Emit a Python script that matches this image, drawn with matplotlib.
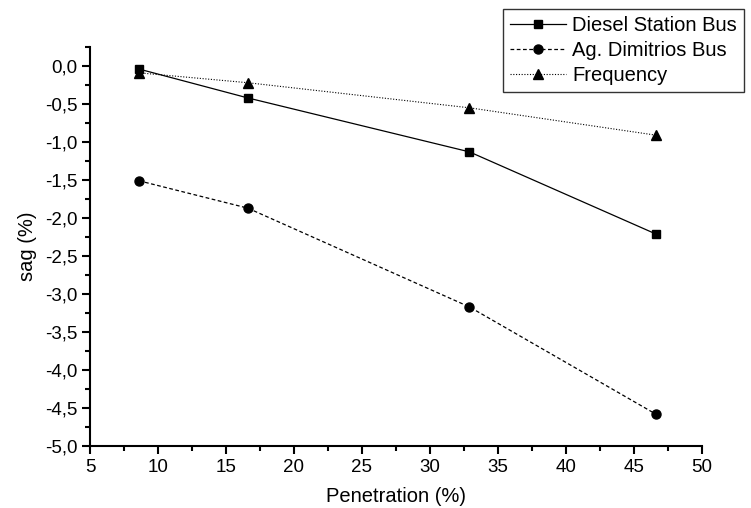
import numpy as np
import matplotlib.pyplot as plt
from matplotlib.ticker import FuncFormatter, MultipleLocator

plt.rcParams['font.family'] = ['Liberation Sans', 'DejaVu Sans']

# Data
penetration = [8.6, 16.6, 32.9, 46.6]
diesel_bus = [-0.04, -0.42, -1.13, -2.21]
dimitrios_bus = [-1.51, -1.87, -3.17, -4.58]
frequency = [-0.09, -0.22, -0.55, -0.91]

fig = plt.figure(figsize=(7.51, 5.08), dpi=100)
ax = fig.add_axes([0.1198, 0.122, 0.815, 0.7855])

ax.plot(penetration, diesel_bus, color='black', lw=0.9, ls='-',
        marker='s', ms=6, label='Diesel Station Bus')
ax.plot(penetration, dimitrios_bus, color='black', lw=0.9, ls=(0, (3, 2)),
        marker='o', ms=6.5, label='Ag. Dimitrios Bus')
ax.plot(penetration, frequency, color='black', lw=0.8, ls=(0, (1, 1.5)),
        marker='^', ms=7, label='Frequency')

ax.set_xlim(5, 50)
ax.set_ylim(-5.0, 0.25)
ax.xaxis.set_major_locator(MultipleLocator(5))
ax.xaxis.set_minor_locator(MultipleLocator(2.5))
ax.yaxis.set_major_locator(MultipleLocator(0.5))
ax.yaxis.set_minor_locator(MultipleLocator(0.25))
ax.yaxis.set_major_formatter(FuncFormatter(lambda v, p: f'{v:.1f}'.replace('.', ',')))

for s in ['top', 'right']:
    ax.spines[s].set_visible(False)
for s in ['left', 'bottom']:
    ax.spines[s].set_linewidth(1.5)
ax.tick_params(which='major', direction='out', length=6, width=1.5, labelsize=13.5,
               color='black', pad=3)
ax.tick_params(which='minor', direction='out', length=3.5, width=1.5)

ax.set_xlabel('Penetration (%)', fontsize=14.5, labelpad=8)
ax.set_ylabel('sag (%)', fontsize=14.5, labelpad=6)

leg = fig.legend(loc='upper left', bbox_to_anchor=(503 / 751, 1 - 9 / 508),
                 fontsize=14.5, frameon=True, fancybox=False, handlelength=2.8,
                 borderaxespad=0, borderpad=0.35, labelspacing=0.3, handletextpad=0.3)
leg.get_frame().set_edgecolor('black')
leg.get_frame().set_linewidth(1.0)

fig.savefig('out.png', dpi=100)
